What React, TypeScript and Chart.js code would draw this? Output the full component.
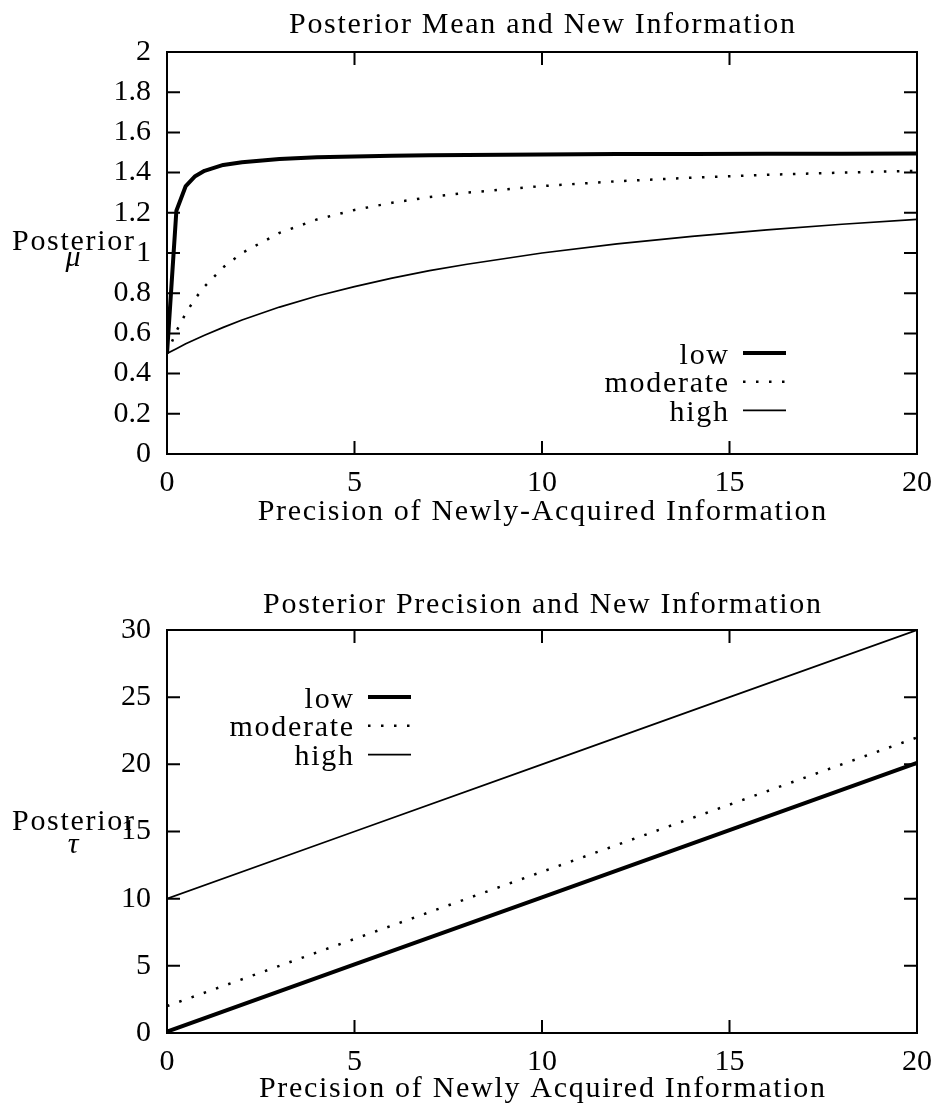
import React, { useEffect, useRef } from "react";
import { Chart, registerables } from "chart.js";

Chart.register(...registerables);

// ---------- data ----------
const seriesNames = ["low", "moderate", "high"];
const xTicks = [0, 5, 10, 15, 20];

// Panel 1: posterior mean
const meanPrecision = [0, 0.25, 0.5, 0.75, 1, 1.5, 2, 3, 4, 5, 6, 7, 8, 10, 12, 14, 16, 18, 20];
const meanLow = [0.5, 1.21, 1.333, 1.382, 1.409, 1.438, 1.452, 1.468, 1.476, 1.48, 1.484, 1.486, 1.488, 1.49, 1.492, 1.493, 1.494, 1.494, 1.495];
const meanModerate = [0.5, 0.611, 0.7, 0.773, 0.833, 0.929, 1.0, 1.1, 1.167, 1.214, 1.25, 1.278, 1.3, 1.333, 1.357, 1.375, 1.389, 1.4, 1.409];
const meanHigh = [0.5, 0.524, 0.548, 0.57, 0.591, 0.63, 0.667, 0.731, 0.786, 0.833, 0.875, 0.912, 0.944, 1.0, 1.045, 1.083, 1.115, 1.143, 1.167];
const meanTicks = [0, 0.2, 0.4, 0.6, 0.8, 1, 1.2, 1.4, 1.6, 1.8, 2];

// Panel 2: posterior precision
const precPrecision = [0, 5, 10, 15, 20];
const precLow = [0.1, 5.1, 10.1, 15.1, 20.1];
const precModerate = [2, 7, 12, 17, 22];
const precHigh = [10, 15, 20, 25, 30];
const precTicks = [0, 5, 10, 15, 20, 25, 30];

// ---------- styling ----------
const FONT_FAMILY = '"Liberation Serif", "Times New Roman", serif';
const FONT_SIZE = 30;
const SPACING = 1.7;
const LINE_STYLES = [
  { width: 4, dash: [] as number[] },
  { width: 2.5, dash: [2.5, 10.5] },
  { width: 1.7, dash: [] as number[] },
];

type Area = { left: number; right: number; top: number; bottom: number };

type PanelSpec = {
  xs: number[];
  series: number[][];
  yMin: number;
  yMax: number;
  yTicks: number[];
  title: string;
  xTitle: string;
  symbol: string;
  height: number;
  padTop: number;
  xAxisHeight: number;
  titleBaseline: (ca: Area) => number;
  xTitleBaseline: (ca: Area) => number;
  yLabelBaseline: (ca: Area) => number;
  symbolBaseline: (ca: Area) => number;
  legendSampleStart: (ca: Area) => number;
  legendRow0: (ca: Area) => number;
  legendStep: number;
};

function drawText(
  ctx: CanvasRenderingContext2D,
  s: string,
  x: number,
  y: number,
  align: CanvasTextAlign,
  font: string,
  spacing: number
) {
  ctx.save();
  ctx.font = font;
  ctx.fillStyle = "#000";
  ctx.textAlign = align;
  ctx.textBaseline = "alphabetic";
  (ctx as any).letterSpacing = spacing + "px";
  let dx = 0;
  if (align === "center") dx = spacing / 2;
  if (align === "right") dx = spacing;
  ctx.fillText(s, x + dx, y);
  (ctx as any).letterSpacing = "0px";
  ctx.restore();
}

function makeChart(canvas: HTMLCanvasElement, spec: PanelSpec) {
  const plainFont = `${FONT_SIZE}px ${FONT_FAMILY}`;
  const italicFont = `italic ${FONT_SIZE}px ${FONT_FAMILY}`;

  const framePlugin = {
    id: "gnuFrame",
    afterDatasetsDraw(chart: any) {
      const ctx: CanvasRenderingContext2D = chart.ctx;
      const ca = chart.chartArea;
      const xs = chart.scales.x;
      const ys = chart.scales.y;
      const tick = 13;
      ctx.save();
      ctx.strokeStyle = "#000";
      ctx.lineWidth = 2;
      ctx.setLineDash([]);
      ctx.beginPath();
      for (const v of xTicks) {
        const px = xs.getPixelForValue(v);
        ctx.moveTo(px, ca.bottom);
        ctx.lineTo(px, ca.bottom - tick);
        ctx.moveTo(px, ca.top);
        ctx.lineTo(px, ca.top + tick);
      }
      for (const v of spec.yTicks) {
        const py = ys.getPixelForValue(v);
        ctx.moveTo(ca.left, py);
        ctx.lineTo(ca.left + tick, py);
        ctx.moveTo(ca.right, py);
        ctx.lineTo(ca.right - tick, py);
      }
      ctx.stroke();
      ctx.strokeRect(ca.left, ca.top, ca.right - ca.left, ca.bottom - ca.top);
      ctx.restore();
    },
  };

  const textPlugin = {
    id: "gnuText",
    afterDraw(chart: any) {
      const ctx: CanvasRenderingContext2D = chart.ctx;
      const ca = chart.chartArea;
      const cx = (ca.left + ca.right) / 2;
      drawText(ctx, spec.title, cx, spec.titleBaseline(ca), "center", plainFont, SPACING);
      drawText(ctx, spec.xTitle, cx, spec.xTitleBaseline(ca), "center", plainFont, SPACING);
      drawText(ctx, "Posterior", 73, spec.yLabelBaseline(ca), "center", plainFont, SPACING);
      drawText(ctx, spec.symbol, 73, spec.symbolBaseline(ca), "center", italicFont, 0);

      // legend
      const start = spec.legendSampleStart(ca);
      const row0 = spec.legendRow0(ca);
      chart.data.datasets.forEach((ds: any, i: number) => {
        const y = row0 + i * spec.legendStep;
        drawText(ctx, ds.label, start - 15, y + 10.5, "right", plainFont, SPACING);
        ctx.save();
        ctx.strokeStyle = "#000";
        ctx.lineWidth = ds.borderWidth;
        ctx.setLineDash(ds.borderDash || []);
        ctx.beginPath();
        ctx.moveTo(start, y);
        ctx.lineTo(start + 43, y);
        ctx.stroke();
        ctx.restore();
      });
    },
  };

  const datasets = spec.series.map((ys, i) => ({
    label: seriesNames[i],
    data: spec.xs.map((x, j) => ({ x, y: ys[j] })),
    borderColor: "#000",
    backgroundColor: "#000",
    borderWidth: LINE_STYLES[i].width,
    borderDash: LINE_STYLES[i].dash,
    borderCapStyle: "butt" as const,
    borderJoinStyle: "round" as const,
    pointRadius: 0,
    tension: 0,
    fill: false,
  }));

  return new Chart(canvas, {
    type: "line",
    data: { datasets },
    options: {
      responsive: false,
      animation: false,
      devicePixelRatio: 1,
      layout: { padding: { top: spec.padTop, right: 17, bottom: 0, left: 0 } },
      plugins: {
        legend: { display: false },
        title: { display: false },
        tooltip: { enabled: false },
      },
      scales: {
        x: {
          type: "linear",
          min: 0,
          max: 20,
          grid: { display: false, drawTicks: false },
          border: { display: false },
          afterBuildTicks: (scale: any) => {
            scale.ticks = xTicks.map((v) => ({ value: v }));
          },
          afterFit: (scale: any) => {
            scale.height = spec.xAxisHeight;
            scale.paddingLeft = 0;
            scale.paddingRight = 0;
          },
          ticks: {
            color: "#000",
            padding: 11,
            maxRotation: 0,
            autoSkip: false,
            font: { family: FONT_FAMILY, size: FONT_SIZE },
            callback: (v: any) => String(Number(v)),
          },
        },
        y: {
          type: "linear",
          min: spec.yMin,
          max: spec.yMax,
          grid: { display: false, drawTicks: false },
          border: { display: false },
          afterBuildTicks: (scale: any) => {
            scale.ticks = spec.yTicks.map((v) => ({ value: v }));
          },
          afterFit: (scale: any) => {
            scale.width = 167;
            scale.paddingTop = 0;
            scale.paddingBottom = 0;
          },
          ticks: {
            color: "#000",
            padding: 16,
            autoSkip: false,
            font: { family: FONT_FAMILY, size: FONT_SIZE },
            callback: (v: any) => String(Number(v)),
          },
        },
      },
    } as any,
    plugins: [framePlugin, textPlugin],
  });
}

const meanSpec: PanelSpec = {
  xs: meanPrecision,
  series: [meanLow, meanModerate, meanHigh],
  yMin: 0,
  yMax: 2,
  yTicks: meanTicks,
  title: "Posterior Mean and New Information",
  xTitle: "Precision of Newly-Acquired Information",
  symbol: "\u03BC",
  height: 552,
  padTop: 52,
  xAxisHeight: 98,
  titleBaseline: (ca) => ca.top - 19,
  xTitleBaseline: (ca) => ca.bottom + 66,
  yLabelBaseline: (ca) => (ca.top + ca.bottom) / 2 - 3,
  symbolBaseline: (ca) => (ca.top + ca.bottom) / 2 + 13,
  legendSampleStart: (ca) => ca.right - 174,
  legendRow0: (ca) => ca.bottom - 101,
  legendStep: 28.7,
};

const precSpec: PanelSpec = {
  xs: precPrecision,
  series: [precLow, precModerate, precHigh],
  yMin: 0,
  yMax: 30,
  yTicks: precTicks,
  title: "Posterior Precision and New Information",
  xTitle: "Precision of Newly Acquired Information",
  symbol: "\u03C4",
  height: 553,
  padTop: 78,
  xAxisHeight: 72,
  titleBaseline: (ca) => ca.top - 17,
  xTitleBaseline: (ca) => ca.bottom + 64,
  yLabelBaseline: (ca) => (ca.top + ca.bottom) / 2 - 2,
  symbolBaseline: (ca) => (ca.top + ca.bottom) / 2 + 21,
  legendSampleStart: (ca) => ca.left + 201,
  legendRow0: (ca) => ca.top + 67,
  legendStep: 28.8,
};

function Panel({ spec }: { spec: PanelSpec }) {
  const ref = useRef<HTMLCanvasElement | null>(null);
  useEffect(() => {
    if (!ref.current) return;
    const chart = makeChart(ref.current, spec);
    return () => chart.destroy();
  }, [spec]);
  return (
    <canvas
      ref={ref}
      width={934}
      height={spec.height}
      style={{ display: "block", width: 934, height: spec.height }}
    />
  );
}

export default function App() {
  return (
    <div
      style={{
        position: "absolute",
        left: 0,
        top: 0,
        width: 934,
        height: 1105,
        background: "#fff",
        overflow: "hidden",
      }}
    >
      <Panel spec={meanSpec} />
      <Panel spec={precSpec} />
    </div>
  );
}
